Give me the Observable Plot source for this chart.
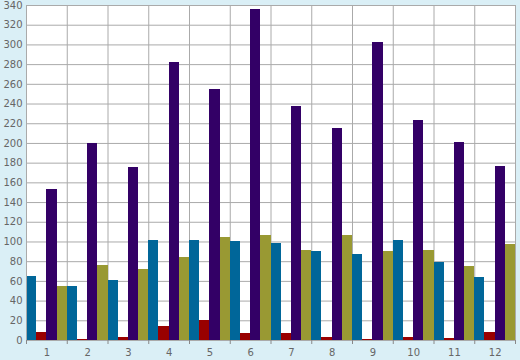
<!DOCTYPE html>
<html><head><meta charset="utf-8">
<script src="https://cdn.jsdelivr.net/npm/d3@7"></script>
<script src="https://cdn.jsdelivr.net/npm/@observablehq/plot@0.6"></script>
<style>
html,body{margin:0;padding:0;background:#daeff6;}
#chart svg{display:block;}
</style></head>
<body><div id="chart"></div>
<script>
const groups = [1,2,3,4,5,6,7,8,9,10,11,12];
const seriesNames = ["A","B","C","D"];
const seriesColors = ["#006699","#990000","#330066","#999933"];
const valuesA = [65,55,61,101,102,100,98,90,87,102,79,64];
const valuesB = [8,1,3,14,20,7,7,3,1,3,2,8];
const valuesC = [153,200,176,282,255,336,237,215,302,223,201,177];
const valuesD = [55,76,72,84,105,107,91,107,90,91,75,97];
const yTicks = d3.range(0, 341, 20);

const allValues = [valuesA, valuesB, valuesC, valuesD];
const data = [];
groups.forEach((g, gi) => {
  allValues.forEach((vals, si) => {
    data.push({group: g, series: seriesNames[si], idx: si, value: vals[gi]});
  });
});
const boundaries = d3.range(0.5, 12.6, 1);

const chart = Plot.plot({
  width: 520, height: 360,
  marginLeft: 26, marginRight: 5, marginTop: 5, marginBottom: 20,
  style: {background: "transparent", fontFamily: "DejaVu Sans", fontSize: "10px", color: "#666"},
  x: {domain: [0.5, 12.5]},
  y: {domain: [0, 340]},
  color: {domain: seriesNames, range: seriesColors},
  marks: [
    Plot.frame({fill: "white", stroke: null}),
    Plot.gridY(yTicks, {stroke: "#aaa", strokeOpacity: 1, strokeWidth: 1}),
    Plot.gridX(boundaries, {stroke: "#aaa", strokeOpacity: 1, strokeWidth: 1}),
    Plot.rectY(data, {
      x1: d => d.group - 0.5 + d.idx * 0.25,
      x2: d => d.group - 0.5 + (d.idx + 1) * 0.25,
      y: "value", fill: "series", inset: 0, shapeRendering: "crispEdges"
    }),
    Plot.frame({stroke: "#aaa", strokeWidth: 1}),
    Plot.axisY(yTicks, {tickSize: 0, tickPadding: 4, label: null, fill: "#666"}),
    Plot.axisX(boundaries, {tickSize: 4, tickFormat: () => "", label: null, stroke: "#888"}),
    Plot.axisX(groups, {tickSize: 0, tickPadding: 8, label: null, fill: "#666"})
  ]
});
document.getElementById("chart").append(chart);
</script></body></html>
